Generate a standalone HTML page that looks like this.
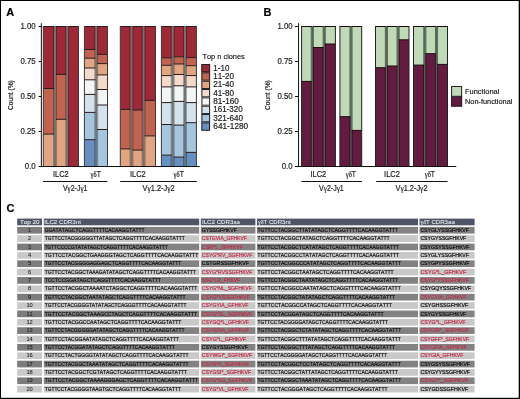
<!DOCTYPE html>
<html><head><meta charset="utf-8"><title>Figure</title>
<style>
html,body{margin:0;padding:0;background:#fff;}
body{width:520px;height:399px;overflow:hidden;position:relative;}
svg{display:block;position:absolute;left:0;top:0;will-change:transform;}
svg text{font-family:"Liberation Sans", sans-serif;font-kerning:none;}
</style></head><body>
<svg width="520" height="399" viewBox="0 0 520 399">
<rect x="0" y="0" width="520" height="399" fill="#fff"/>
<g>
<rect x="43.30" y="26.50" width="11.70" height="62.00" fill="#9e2836"/>
<rect x="43.30" y="88.50" width="11.70" height="45.60" fill="#c3634f"/>
<rect x="43.30" y="134.10" width="11.70" height="32.40" fill="#e2a582"/>
<line x1="43.30" y1="88.50" x2="55.00" y2="88.50" stroke="#2a1a1a" stroke-width="1.0"/>
<line x1="43.30" y1="134.10" x2="55.00" y2="134.10" stroke="#2a1a1a" stroke-width="1.0"/>
<rect x="55.00" y="26.50" width="12.20" height="47.90" fill="#9e2836"/>
<rect x="55.00" y="74.40" width="12.20" height="44.90" fill="#c3634f"/>
<rect x="55.00" y="119.30" width="12.20" height="47.20" fill="#e2a582"/>
<line x1="55.00" y1="74.40" x2="67.20" y2="74.40" stroke="#2a1a1a" stroke-width="1.0"/>
<line x1="55.00" y1="119.30" x2="67.20" y2="119.30" stroke="#2a1a1a" stroke-width="1.0"/>
<rect x="67.20" y="26.50" width="11.30" height="140.00" fill="#9e2836"/>
<line x1="43.30" y1="26.50" x2="78.50" y2="26.50" stroke="#2a1a1a" stroke-width="1.0"/>
<rect x="54.00" y="26.00" width="2.00" height="140.50" fill="#6b7575"/>
<rect x="53.00" y="26.50" width="1.00" height="140.00" fill="#000" fill-opacity="0.3"/>
<rect x="56.00" y="26.50" width="1.00" height="140.00" fill="#000" fill-opacity="0.3"/>
<rect x="66.20" y="26.00" width="2.00" height="140.50" fill="#6b7575"/>
<rect x="65.20" y="26.50" width="1.00" height="140.00" fill="#000" fill-opacity="0.3"/>
<rect x="68.20" y="26.50" width="1.00" height="140.00" fill="#000" fill-opacity="0.3"/>
<rect x="42.80" y="26.00" width="1.00" height="140.50" fill="#3a3a3a"/>
<rect x="78.00" y="26.00" width="1.00" height="140.50" fill="#3a3a3a"/>
<rect x="84.40" y="26.50" width="11.80" height="23.00" fill="#9e2836"/>
<rect x="84.40" y="49.50" width="11.80" height="8.70" fill="#c3634f"/>
<rect x="84.40" y="58.20" width="11.80" height="9.80" fill="#e2a582"/>
<rect x="84.40" y="68.00" width="11.80" height="11.80" fill="#f3dac9"/>
<rect x="84.40" y="79.80" width="11.80" height="14.60" fill="#f4f6f6"/>
<rect x="84.40" y="94.40" width="11.80" height="18.00" fill="#d4e2ec"/>
<rect x="84.40" y="112.40" width="11.80" height="27.30" fill="#a6c5de"/>
<rect x="84.40" y="139.70" width="11.80" height="26.80" fill="#6690c2"/>
<line x1="84.40" y1="49.50" x2="96.20" y2="49.50" stroke="#2a1a1a" stroke-width="1.0"/>
<line x1="84.40" y1="58.20" x2="96.20" y2="58.20" stroke="#2a1a1a" stroke-width="1.0"/>
<line x1="84.40" y1="68.00" x2="96.20" y2="68.00" stroke="#2a1a1a" stroke-width="1.0"/>
<line x1="84.40" y1="79.80" x2="96.20" y2="79.80" stroke="#2a1a1a" stroke-width="1.0"/>
<line x1="84.40" y1="94.40" x2="96.20" y2="94.40" stroke="#2a1a1a" stroke-width="1.0"/>
<line x1="84.40" y1="112.40" x2="96.20" y2="112.40" stroke="#2a1a1a" stroke-width="1.0"/>
<line x1="84.40" y1="139.70" x2="96.20" y2="139.70" stroke="#2a1a1a" stroke-width="1.0"/>
<rect x="96.20" y="26.50" width="11.30" height="27.90" fill="#9e2836"/>
<rect x="96.20" y="54.40" width="11.30" height="9.20" fill="#c3634f"/>
<rect x="96.20" y="63.60" width="11.30" height="11.30" fill="#e2a582"/>
<rect x="96.20" y="74.90" width="11.30" height="14.60" fill="#f3dac9"/>
<rect x="96.20" y="89.50" width="11.30" height="15.50" fill="#f4f6f6"/>
<rect x="96.20" y="105.00" width="11.30" height="24.50" fill="#d4e2ec"/>
<rect x="96.20" y="129.50" width="11.30" height="37.00" fill="#a6c5de"/>
<line x1="96.20" y1="54.40" x2="107.50" y2="54.40" stroke="#2a1a1a" stroke-width="1.0"/>
<line x1="96.20" y1="63.60" x2="107.50" y2="63.60" stroke="#2a1a1a" stroke-width="1.0"/>
<line x1="96.20" y1="74.90" x2="107.50" y2="74.90" stroke="#2a1a1a" stroke-width="1.0"/>
<line x1="96.20" y1="89.50" x2="107.50" y2="89.50" stroke="#2a1a1a" stroke-width="1.0"/>
<line x1="96.20" y1="105.00" x2="107.50" y2="105.00" stroke="#2a1a1a" stroke-width="1.0"/>
<line x1="96.20" y1="129.50" x2="107.50" y2="129.50" stroke="#2a1a1a" stroke-width="1.0"/>
<line x1="84.40" y1="26.50" x2="107.50" y2="26.50" stroke="#2a1a1a" stroke-width="1.0"/>
<rect x="95.20" y="26.00" width="2.00" height="140.50" fill="#6b7575"/>
<rect x="94.20" y="26.50" width="1.00" height="140.00" fill="#000" fill-opacity="0.3"/>
<rect x="97.20" y="26.50" width="1.00" height="140.00" fill="#000" fill-opacity="0.3"/>
<rect x="83.90" y="26.00" width="1.00" height="140.50" fill="#3a3a3a"/>
<rect x="107.00" y="26.00" width="1.00" height="140.50" fill="#3a3a3a"/>
<rect x="120.30" y="26.50" width="11.20" height="82.90" fill="#9e2836"/>
<rect x="120.30" y="109.40" width="11.20" height="39.50" fill="#c3634f"/>
<rect x="120.30" y="148.90" width="11.20" height="17.60" fill="#e2a582"/>
<line x1="120.30" y1="109.40" x2="131.50" y2="109.40" stroke="#2a1a1a" stroke-width="1.0"/>
<line x1="120.30" y1="148.90" x2="131.50" y2="148.90" stroke="#2a1a1a" stroke-width="1.0"/>
<rect x="131.50" y="26.50" width="12.10" height="83.50" fill="#9e2836"/>
<rect x="131.50" y="110.00" width="12.10" height="40.10" fill="#c3634f"/>
<rect x="131.50" y="150.10" width="12.10" height="16.40" fill="#e2a582"/>
<line x1="131.50" y1="110.00" x2="143.60" y2="110.00" stroke="#2a1a1a" stroke-width="1.0"/>
<line x1="131.50" y1="150.10" x2="143.60" y2="150.10" stroke="#2a1a1a" stroke-width="1.0"/>
<rect x="143.60" y="26.50" width="11.90" height="73.90" fill="#9e2836"/>
<rect x="143.60" y="100.40" width="11.90" height="35.50" fill="#c3634f"/>
<rect x="143.60" y="135.90" width="11.90" height="30.60" fill="#e2a582"/>
<line x1="143.60" y1="100.40" x2="155.50" y2="100.40" stroke="#2a1a1a" stroke-width="1.0"/>
<line x1="143.60" y1="135.90" x2="155.50" y2="135.90" stroke="#2a1a1a" stroke-width="1.0"/>
<line x1="120.30" y1="26.50" x2="155.50" y2="26.50" stroke="#2a1a1a" stroke-width="1.0"/>
<rect x="130.50" y="26.00" width="2.00" height="140.50" fill="#6b7575"/>
<rect x="129.50" y="26.50" width="1.00" height="140.00" fill="#000" fill-opacity="0.3"/>
<rect x="132.50" y="26.50" width="1.00" height="140.00" fill="#000" fill-opacity="0.3"/>
<rect x="142.60" y="26.00" width="2.00" height="140.50" fill="#6b7575"/>
<rect x="141.60" y="26.50" width="1.00" height="140.00" fill="#000" fill-opacity="0.3"/>
<rect x="144.60" y="26.50" width="1.00" height="140.00" fill="#000" fill-opacity="0.3"/>
<rect x="119.80" y="26.00" width="1.00" height="140.50" fill="#3a3a3a"/>
<rect x="155.00" y="26.00" width="1.00" height="140.50" fill="#3a3a3a"/>
<rect x="161.40" y="26.50" width="11.30" height="31.30" fill="#9e2836"/>
<rect x="161.40" y="57.80" width="11.30" height="7.50" fill="#c3634f"/>
<rect x="161.40" y="65.30" width="11.30" height="10.30" fill="#e2a582"/>
<rect x="161.40" y="75.60" width="11.30" height="11.30" fill="#f3dac9"/>
<rect x="161.40" y="86.90" width="11.30" height="15.70" fill="#f4f6f6"/>
<rect x="161.40" y="102.60" width="11.30" height="21.90" fill="#d4e2ec"/>
<rect x="161.40" y="124.50" width="11.30" height="30.60" fill="#a6c5de"/>
<rect x="161.40" y="155.10" width="11.30" height="11.40" fill="#6690c2"/>
<line x1="161.40" y1="57.80" x2="172.70" y2="57.80" stroke="#2a1a1a" stroke-width="1.0"/>
<line x1="161.40" y1="65.30" x2="172.70" y2="65.30" stroke="#2a1a1a" stroke-width="1.0"/>
<line x1="161.40" y1="75.60" x2="172.70" y2="75.60" stroke="#2a1a1a" stroke-width="1.0"/>
<line x1="161.40" y1="86.90" x2="172.70" y2="86.90" stroke="#2a1a1a" stroke-width="1.0"/>
<line x1="161.40" y1="102.60" x2="172.70" y2="102.60" stroke="#2a1a1a" stroke-width="1.0"/>
<line x1="161.40" y1="124.50" x2="172.70" y2="124.50" stroke="#2a1a1a" stroke-width="1.0"/>
<line x1="161.40" y1="155.10" x2="172.70" y2="155.10" stroke="#2a1a1a" stroke-width="1.0"/>
<rect x="172.70" y="26.50" width="12.30" height="30.30" fill="#9e2836"/>
<rect x="172.70" y="56.80" width="12.30" height="7.20" fill="#c3634f"/>
<rect x="172.70" y="64.00" width="12.30" height="10.50" fill="#e2a582"/>
<rect x="172.70" y="74.50" width="12.30" height="11.30" fill="#f3dac9"/>
<rect x="172.70" y="85.80" width="12.30" height="15.60" fill="#f4f6f6"/>
<rect x="172.70" y="101.40" width="12.30" height="23.70" fill="#d4e2ec"/>
<rect x="172.70" y="125.10" width="12.30" height="32.00" fill="#a6c5de"/>
<rect x="172.70" y="157.10" width="12.30" height="9.40" fill="#6690c2"/>
<line x1="172.70" y1="56.80" x2="185.00" y2="56.80" stroke="#2a1a1a" stroke-width="1.0"/>
<line x1="172.70" y1="64.00" x2="185.00" y2="64.00" stroke="#2a1a1a" stroke-width="1.0"/>
<line x1="172.70" y1="74.50" x2="185.00" y2="74.50" stroke="#2a1a1a" stroke-width="1.0"/>
<line x1="172.70" y1="85.80" x2="185.00" y2="85.80" stroke="#2a1a1a" stroke-width="1.0"/>
<line x1="172.70" y1="101.40" x2="185.00" y2="101.40" stroke="#2a1a1a" stroke-width="1.0"/>
<line x1="172.70" y1="125.10" x2="185.00" y2="125.10" stroke="#2a1a1a" stroke-width="1.0"/>
<line x1="172.70" y1="157.10" x2="185.00" y2="157.10" stroke="#2a1a1a" stroke-width="1.0"/>
<rect x="185.00" y="26.50" width="11.40" height="31.10" fill="#9e2836"/>
<rect x="185.00" y="57.60" width="11.40" height="8.10" fill="#c3634f"/>
<rect x="185.00" y="65.70" width="11.40" height="9.90" fill="#e2a582"/>
<rect x="185.00" y="75.60" width="11.40" height="11.30" fill="#f3dac9"/>
<rect x="185.00" y="86.90" width="11.40" height="15.70" fill="#f4f6f6"/>
<rect x="185.00" y="102.60" width="11.40" height="20.10" fill="#d4e2ec"/>
<rect x="185.00" y="122.70" width="11.40" height="29.70" fill="#a6c5de"/>
<rect x="185.00" y="152.40" width="11.40" height="14.10" fill="#6690c2"/>
<line x1="185.00" y1="57.60" x2="196.40" y2="57.60" stroke="#2a1a1a" stroke-width="1.0"/>
<line x1="185.00" y1="65.70" x2="196.40" y2="65.70" stroke="#2a1a1a" stroke-width="1.0"/>
<line x1="185.00" y1="75.60" x2="196.40" y2="75.60" stroke="#2a1a1a" stroke-width="1.0"/>
<line x1="185.00" y1="86.90" x2="196.40" y2="86.90" stroke="#2a1a1a" stroke-width="1.0"/>
<line x1="185.00" y1="102.60" x2="196.40" y2="102.60" stroke="#2a1a1a" stroke-width="1.0"/>
<line x1="185.00" y1="122.70" x2="196.40" y2="122.70" stroke="#2a1a1a" stroke-width="1.0"/>
<line x1="185.00" y1="152.40" x2="196.40" y2="152.40" stroke="#2a1a1a" stroke-width="1.0"/>
<line x1="161.40" y1="26.50" x2="196.40" y2="26.50" stroke="#2a1a1a" stroke-width="1.0"/>
<rect x="171.70" y="26.00" width="2.00" height="140.50" fill="#6b7575"/>
<rect x="170.70" y="26.50" width="1.00" height="140.00" fill="#000" fill-opacity="0.3"/>
<rect x="173.70" y="26.50" width="1.00" height="140.00" fill="#000" fill-opacity="0.3"/>
<rect x="184.00" y="26.00" width="2.00" height="140.50" fill="#6b7575"/>
<rect x="183.00" y="26.50" width="1.00" height="140.00" fill="#000" fill-opacity="0.3"/>
<rect x="186.00" y="26.50" width="1.00" height="140.00" fill="#000" fill-opacity="0.3"/>
<rect x="160.90" y="26.00" width="1.00" height="140.50" fill="#3a3a3a"/>
<rect x="195.90" y="26.00" width="1.00" height="140.50" fill="#3a3a3a"/>
<line x1="41.35" y1="23.20" x2="41.35" y2="167.00" stroke="#111" stroke-width="1.0"/>
<line x1="38.60" y1="26.50" x2="41.35" y2="26.50" stroke="#111" stroke-width="1.0"/>
<text transform="translate(20.50,29.45) scale(0.9318,1)" x="0" y="0" font-size="8.4" fill="#1a1a1a" stroke="#1a1a1a" stroke-width="0.18">1.00</text>
<line x1="38.60" y1="61.50" x2="41.35" y2="61.50" stroke="#111" stroke-width="1.0"/>
<text transform="translate(20.50,64.45) scale(0.9318,1)" x="0" y="0" font-size="8.4" fill="#1a1a1a" stroke="#1a1a1a" stroke-width="0.18">0.75</text>
<line x1="38.60" y1="96.50" x2="41.35" y2="96.50" stroke="#111" stroke-width="1.0"/>
<text transform="translate(20.50,99.45) scale(0.9318,1)" x="0" y="0" font-size="8.4" fill="#1a1a1a" stroke="#1a1a1a" stroke-width="0.18">0.50</text>
<line x1="38.60" y1="131.50" x2="41.35" y2="131.50" stroke="#111" stroke-width="1.0"/>
<text transform="translate(20.50,134.45) scale(0.9318,1)" x="0" y="0" font-size="8.4" fill="#1a1a1a" stroke="#1a1a1a" stroke-width="0.18">0.25</text>
<line x1="38.60" y1="166.50" x2="41.35" y2="166.50" stroke="#111" stroke-width="1.0"/>
<text transform="translate(24.85,169.45) scale(0.9308,1)" x="0" y="0" font-size="8.4" fill="#1a1a1a" stroke="#1a1a1a" stroke-width="0.18">0.0</text>
<line x1="41.00" y1="166.50" x2="199.70" y2="166.50" stroke="#111" stroke-width="1.0"/>
</g>
<text transform="translate(52.90,176.70) scale(0.9135,1)" x="0" y="0" font-size="8.2" fill="#1a1a1a" stroke="#1a1a1a" stroke-width="0.18">ILC2</text>
<text transform="translate(90.45,176.70) scale(0.8240,1)" x="0" y="0" font-size="8.2" fill="#1a1a1a" stroke="#1a1a1a" stroke-width="0.18"><tspan font-family="Liberation Serif">γ</tspan><tspan font-family="Liberation Serif">δ</tspan>T</text>
<text transform="translate(129.90,176.70) scale(0.9135,1)" x="0" y="0" font-size="8.2" fill="#1a1a1a" stroke="#1a1a1a" stroke-width="0.18">ILC2</text>
<text transform="translate(173.55,176.70) scale(0.8240,1)" x="0" y="0" font-size="8.2" fill="#1a1a1a" stroke="#1a1a1a" stroke-width="0.18"><tspan font-family="Liberation Serif">γ</tspan><tspan font-family="Liberation Serif">δ</tspan>T</text>
<line x1="43.00" y1="181.50" x2="107.30" y2="181.50" stroke="#111" stroke-width="1.0"/>
<line x1="120.20" y1="181.50" x2="196.90" y2="181.50" stroke="#111" stroke-width="1.0"/>
<text transform="translate(62.90,191.40) scale(0.8585,1)" x="0" y="0" font-size="8.2" fill="#1a1a1a" stroke="#1a1a1a" stroke-width="0.18">V<tspan font-family="Liberation Serif">γ</tspan>2-J<tspan font-family="Liberation Serif">γ</tspan>1</text>
<text transform="translate(142.55,191.40) scale(0.9046,1)" x="0" y="0" font-size="8.2" fill="#1a1a1a" stroke="#1a1a1a" stroke-width="0.18">V<tspan font-family="Liberation Serif">γ</tspan>1.2-J<tspan font-family="Liberation Serif">γ</tspan>2</text>
<text transform="translate(13.30,110.00) rotate(-90) scale(0.8954,1)" x="0" y="0" font-size="7.4" fill="#1a1a1a" stroke="#1a1a1a" stroke-width="0.2">Count (%)</text>
<text transform="translate(202.50,59.30) scale(0.9255,1)" x="0" y="0" font-size="8.0" fill="#1a1a1a" stroke="#1a1a1a" stroke-width="0.18">Top n clones</text>
<rect x="201.40" y="64.00" width="8.70" height="8.34" fill="#9e2836"/>
<rect x="201.90" y="64.50" width="7.70" height="7.34" fill="none" stroke="#222" stroke-width="1"/>
<text transform="translate(213.30,70.62) scale(0.9762,1)" x="0" y="0" font-size="8.2" fill="#1a1a1a" stroke="#1a1a1a" stroke-width="0.18">1-10</text>
<rect x="201.40" y="72.34" width="8.70" height="8.34" fill="#c3634f"/>
<rect x="201.90" y="72.84" width="7.70" height="7.34" fill="none" stroke="#222" stroke-width="1"/>
<text transform="translate(213.30,78.96) scale(0.9927,1)" x="0" y="0" font-size="8.2" fill="#1a1a1a" stroke="#1a1a1a" stroke-width="0.18">11-20</text>
<rect x="201.40" y="80.68" width="8.70" height="8.34" fill="#e2a582"/>
<rect x="201.90" y="81.18" width="7.70" height="7.34" fill="none" stroke="#222" stroke-width="1"/>
<text transform="translate(213.30,87.30) scale(0.9927,1)" x="0" y="0" font-size="8.2" fill="#1a1a1a" stroke="#1a1a1a" stroke-width="0.18">21-40</text>
<rect x="201.40" y="89.02" width="8.70" height="8.34" fill="#f3dac9"/>
<rect x="201.90" y="89.52" width="7.70" height="7.34" fill="none" stroke="#222" stroke-width="1"/>
<text transform="translate(213.30,95.64) scale(0.9927,1)" x="0" y="0" font-size="8.2" fill="#1a1a1a" stroke="#1a1a1a" stroke-width="0.18">41-80</text>
<rect x="201.40" y="97.36" width="8.70" height="8.34" fill="#f4f6f6"/>
<rect x="201.90" y="97.86" width="7.70" height="7.34" fill="none" stroke="#222" stroke-width="1"/>
<text transform="translate(213.30,103.98) scale(1.0000,1)" x="0" y="0" font-size="8.2" fill="#1a1a1a" stroke="#1a1a1a" stroke-width="0.18">81-160</text>
<rect x="201.40" y="105.70" width="8.70" height="8.34" fill="#d4e2ec"/>
<rect x="201.90" y="106.20" width="7.70" height="7.34" fill="none" stroke="#222" stroke-width="1"/>
<text transform="translate(213.30,112.32) scale(0.9780,1)" x="0" y="0" font-size="8.2" fill="#1a1a1a" stroke="#1a1a1a" stroke-width="0.18">161-320</text>
<rect x="201.40" y="114.04" width="8.70" height="8.34" fill="#a6c5de"/>
<rect x="201.90" y="114.54" width="7.70" height="7.34" fill="none" stroke="#222" stroke-width="1"/>
<text transform="translate(213.30,120.66) scale(0.9913,1)" x="0" y="0" font-size="8.2" fill="#1a1a1a" stroke="#1a1a1a" stroke-width="0.18">321-640</text>
<rect x="201.40" y="122.38" width="8.70" height="8.34" fill="#6690c2"/>
<rect x="201.90" y="122.88" width="7.70" height="7.34" fill="none" stroke="#222" stroke-width="1"/>
<text transform="translate(213.30,129.00) scale(1.0055,1)" x="0" y="0" font-size="8.2" fill="#1a1a1a" stroke="#1a1a1a" stroke-width="0.18">641-1280</text>
<rect x="301.60" y="26.50" width="10.70" height="54.90" fill="#c0d9b6"/>
<rect x="301.60" y="81.40" width="10.70" height="85.10" fill="#641b40"/>
<line x1="301.60" y1="81.40" x2="312.30" y2="81.40" stroke="#1a0a10" stroke-width="1.0"/>
<rect x="312.30" y="26.50" width="11.90" height="21.00" fill="#c0d9b6"/>
<rect x="312.30" y="47.50" width="11.90" height="119.00" fill="#641b40"/>
<line x1="312.30" y1="47.50" x2="324.20" y2="47.50" stroke="#1a0a10" stroke-width="1.0"/>
<rect x="324.20" y="26.50" width="11.20" height="17.50" fill="#c0d9b6"/>
<rect x="324.20" y="44.00" width="11.20" height="122.50" fill="#641b40"/>
<line x1="324.20" y1="44.00" x2="335.40" y2="44.00" stroke="#1a0a10" stroke-width="1.0"/>
<line x1="301.60" y1="26.50" x2="335.40" y2="26.50" stroke="#1a0a10" stroke-width="1.0"/>
<rect x="311.55" y="26.00" width="1.50" height="140.50" fill="#4d6658"/>
<rect x="310.75" y="26.50" width="0.80" height="140.00" fill="#000" fill-opacity="0.55"/>
<rect x="313.05" y="26.50" width="0.80" height="140.00" fill="#000" fill-opacity="0.55"/>
<rect x="323.45" y="26.00" width="1.50" height="140.50" fill="#4d6658"/>
<rect x="322.65" y="26.50" width="0.80" height="140.00" fill="#000" fill-opacity="0.55"/>
<rect x="324.95" y="26.50" width="0.80" height="140.00" fill="#000" fill-opacity="0.55"/>
<rect x="301.10" y="26.00" width="1.00" height="140.50" fill="#222"/>
<rect x="334.90" y="26.00" width="1.00" height="140.50" fill="#222"/>
<rect x="339.90" y="26.50" width="11.10" height="90.20" fill="#c0d9b6"/>
<rect x="339.90" y="116.70" width="11.10" height="49.80" fill="#641b40"/>
<line x1="339.90" y1="116.70" x2="351.00" y2="116.70" stroke="#1a0a10" stroke-width="1.0"/>
<rect x="351.00" y="26.50" width="10.70" height="103.90" fill="#c0d9b6"/>
<rect x="351.00" y="130.40" width="10.70" height="36.10" fill="#641b40"/>
<line x1="351.00" y1="130.40" x2="361.70" y2="130.40" stroke="#1a0a10" stroke-width="1.0"/>
<line x1="339.90" y1="26.50" x2="361.70" y2="26.50" stroke="#1a0a10" stroke-width="1.0"/>
<rect x="350.25" y="26.00" width="1.50" height="140.50" fill="#4d6658"/>
<rect x="349.45" y="26.50" width="0.80" height="140.00" fill="#000" fill-opacity="0.55"/>
<rect x="351.75" y="26.50" width="0.80" height="140.00" fill="#000" fill-opacity="0.55"/>
<rect x="339.40" y="26.00" width="1.00" height="140.50" fill="#222"/>
<rect x="361.20" y="26.00" width="1.00" height="140.50" fill="#222"/>
<rect x="375.50" y="26.50" width="10.90" height="41.20" fill="#c0d9b6"/>
<rect x="375.50" y="67.70" width="10.90" height="98.80" fill="#641b40"/>
<line x1="375.50" y1="67.70" x2="386.40" y2="67.70" stroke="#1a0a10" stroke-width="1.0"/>
<rect x="386.40" y="26.50" width="11.70" height="39.50" fill="#c0d9b6"/>
<rect x="386.40" y="66.00" width="11.70" height="100.50" fill="#641b40"/>
<line x1="386.40" y1="66.00" x2="398.10" y2="66.00" stroke="#1a0a10" stroke-width="1.0"/>
<rect x="398.10" y="26.50" width="10.90" height="13.30" fill="#c0d9b6"/>
<rect x="398.10" y="39.80" width="10.90" height="126.70" fill="#641b40"/>
<line x1="398.10" y1="39.80" x2="409.00" y2="39.80" stroke="#1a0a10" stroke-width="1.0"/>
<line x1="375.50" y1="26.50" x2="409.00" y2="26.50" stroke="#1a0a10" stroke-width="1.0"/>
<rect x="385.65" y="26.00" width="1.50" height="140.50" fill="#4d6658"/>
<rect x="384.85" y="26.50" width="0.80" height="140.00" fill="#000" fill-opacity="0.55"/>
<rect x="387.15" y="26.50" width="0.80" height="140.00" fill="#000" fill-opacity="0.55"/>
<rect x="397.35" y="26.00" width="1.50" height="140.50" fill="#4d6658"/>
<rect x="396.55" y="26.50" width="0.80" height="140.00" fill="#000" fill-opacity="0.55"/>
<rect x="398.85" y="26.50" width="0.80" height="140.00" fill="#000" fill-opacity="0.55"/>
<rect x="375.00" y="26.00" width="1.00" height="140.50" fill="#222"/>
<rect x="408.50" y="26.00" width="1.00" height="140.50" fill="#222"/>
<rect x="413.50" y="26.50" width="11.30" height="38.60" fill="#c0d9b6"/>
<rect x="413.50" y="65.10" width="11.30" height="101.40" fill="#641b40"/>
<line x1="413.50" y1="65.10" x2="424.80" y2="65.10" stroke="#1a0a10" stroke-width="1.0"/>
<rect x="424.80" y="26.50" width="11.70" height="27.20" fill="#c0d9b6"/>
<rect x="424.80" y="53.70" width="11.70" height="112.80" fill="#641b40"/>
<line x1="424.80" y1="53.70" x2="436.50" y2="53.70" stroke="#1a0a10" stroke-width="1.0"/>
<rect x="436.50" y="26.50" width="11.00" height="37.90" fill="#c0d9b6"/>
<rect x="436.50" y="64.40" width="11.00" height="102.10" fill="#641b40"/>
<line x1="436.50" y1="64.40" x2="447.50" y2="64.40" stroke="#1a0a10" stroke-width="1.0"/>
<line x1="413.50" y1="26.50" x2="447.50" y2="26.50" stroke="#1a0a10" stroke-width="1.0"/>
<rect x="424.05" y="26.00" width="1.50" height="140.50" fill="#4d6658"/>
<rect x="423.25" y="26.50" width="0.80" height="140.00" fill="#000" fill-opacity="0.55"/>
<rect x="425.55" y="26.50" width="0.80" height="140.00" fill="#000" fill-opacity="0.55"/>
<rect x="435.75" y="26.00" width="1.50" height="140.50" fill="#4d6658"/>
<rect x="434.95" y="26.50" width="0.80" height="140.00" fill="#000" fill-opacity="0.55"/>
<rect x="437.25" y="26.50" width="0.80" height="140.00" fill="#000" fill-opacity="0.55"/>
<rect x="413.00" y="26.00" width="1.00" height="140.50" fill="#222"/>
<rect x="447.00" y="26.00" width="1.00" height="140.50" fill="#222"/>
<line x1="298.55" y1="23.20" x2="298.55" y2="167.00" stroke="#111" stroke-width="1.0"/>
<line x1="295.00" y1="26.50" x2="298.55" y2="26.50" stroke="#111" stroke-width="1.0"/>
<text transform="translate(277.40,29.45) scale(0.9318,1)" x="0" y="0" font-size="8.4" fill="#1a1a1a" stroke="#1a1a1a" stroke-width="0.18">1.00</text>
<line x1="295.00" y1="61.50" x2="298.55" y2="61.50" stroke="#111" stroke-width="1.0"/>
<text transform="translate(277.40,64.45) scale(0.9318,1)" x="0" y="0" font-size="8.4" fill="#1a1a1a" stroke="#1a1a1a" stroke-width="0.18">0.75</text>
<line x1="295.00" y1="96.50" x2="298.55" y2="96.50" stroke="#111" stroke-width="1.0"/>
<text transform="translate(277.40,99.45) scale(0.9318,1)" x="0" y="0" font-size="8.4" fill="#1a1a1a" stroke="#1a1a1a" stroke-width="0.18">0.50</text>
<line x1="295.00" y1="131.50" x2="298.55" y2="131.50" stroke="#111" stroke-width="1.0"/>
<text transform="translate(277.40,134.45) scale(0.9318,1)" x="0" y="0" font-size="8.4" fill="#1a1a1a" stroke="#1a1a1a" stroke-width="0.18">0.25</text>
<line x1="295.00" y1="166.50" x2="298.55" y2="166.50" stroke="#111" stroke-width="1.0"/>
<text transform="translate(281.75,169.45) scale(0.9308,1)" x="0" y="0" font-size="8.4" fill="#1a1a1a" stroke="#1a1a1a" stroke-width="0.18">0.0</text>
<line x1="298.00" y1="166.50" x2="456.30" y2="166.50" stroke="#111" stroke-width="1.0"/>
<text transform="translate(310.40,176.70) scale(0.9135,1)" x="0" y="0" font-size="8.2" fill="#1a1a1a" stroke="#1a1a1a" stroke-width="0.18">ILC2</text>
<text transform="translate(345.65,176.70) scale(0.8240,1)" x="0" y="0" font-size="8.2" fill="#1a1a1a" stroke="#1a1a1a" stroke-width="0.18"><tspan font-family="Liberation Serif">γ</tspan><tspan font-family="Liberation Serif">δ</tspan>T</text>
<text transform="translate(384.10,176.70) scale(0.9135,1)" x="0" y="0" font-size="8.2" fill="#1a1a1a" stroke="#1a1a1a" stroke-width="0.18">ILC2</text>
<text transform="translate(424.65,176.70) scale(0.8240,1)" x="0" y="0" font-size="8.2" fill="#1a1a1a" stroke="#1a1a1a" stroke-width="0.18"><tspan font-family="Liberation Serif">γ</tspan><tspan font-family="Liberation Serif">δ</tspan>T</text>
<line x1="301.30" y1="181.50" x2="362.00" y2="181.50" stroke="#111" stroke-width="1.0"/>
<line x1="376.20" y1="181.50" x2="447.50" y2="181.50" stroke="#111" stroke-width="1.0"/>
<text transform="translate(319.10,191.40) scale(0.8585,1)" x="0" y="0" font-size="8.2" fill="#1a1a1a" stroke="#1a1a1a" stroke-width="0.18">V<tspan font-family="Liberation Serif">γ</tspan>2-J<tspan font-family="Liberation Serif">γ</tspan>1</text>
<text transform="translate(395.45,191.40) scale(0.9046,1)" x="0" y="0" font-size="8.2" fill="#1a1a1a" stroke="#1a1a1a" stroke-width="0.18">V<tspan font-family="Liberation Serif">γ</tspan>1.2-J<tspan font-family="Liberation Serif">γ</tspan>2</text>
<text transform="translate(269.80,110.00) rotate(-90) scale(0.8954,1)" x="0" y="0" font-size="7.4" fill="#1a1a1a" stroke="#1a1a1a" stroke-width="0.2">Count (%)</text>
<rect x="451.10" y="86.00" width="11.00" height="10.30" fill="#c0d9b6"/>
<rect x="451.10" y="96.30" width="11.00" height="10.30" fill="#641b40"/>
<rect x="451.6" y="86.5" width="10" height="19.6" fill="none" stroke="#222" stroke-width="1"/>
<line x1="451.10" y1="96.30" x2="462.10" y2="96.30" stroke="#222" stroke-width="1.0"/>
<text transform="translate(465.00,93.70) scale(0.9670,1)" x="0" y="0" font-size="7.7" fill="#1a1a1a" stroke="#1a1a1a" stroke-width="0.18">Functional</text>
<text transform="translate(465.00,103.70) scale(0.9561,1)" x="0" y="0" font-size="7.7" fill="#1a1a1a" stroke="#1a1a1a" stroke-width="0.18">Non-functional</text>
<text x="6.20" y="15.90" font-size="11" fill="#000" stroke="#000" stroke-width="0.18" font-weight="bold" >A</text>
<text x="263.40" y="16.00" font-size="11" fill="#000" stroke="#000" stroke-width="0.18" font-weight="bold" >B</text>
<text x="6.40" y="212.00" font-size="11" fill="#000" stroke="#000" stroke-width="0.18" font-weight="bold" >C</text>
<rect x="17.20" y="218.60" width="24.80" height="6.70" fill="#4e5566"/>
<rect x="43.80" y="218.60" width="155.40" height="6.70" fill="#4e5566"/>
<rect x="200.80" y="218.60" width="54.60" height="6.70" fill="#4e5566"/>
<rect x="256.90" y="218.60" width="161.10" height="6.70" fill="#4e5566"/>
<rect x="419.50" y="218.60" width="55.10" height="6.70" fill="#4e5566"/>
<rect x="17.20" y="226.90" width="24.80" height="6.70" fill="#7c7c7c"/>
<rect x="43.80" y="226.90" width="155.40" height="6.70" fill="#828282"/>
<rect x="200.80" y="226.90" width="54.60" height="6.70" fill="#828282"/>
<rect x="256.90" y="226.90" width="161.10" height="6.70" fill="#828282"/>
<rect x="419.50" y="226.90" width="55.10" height="6.70" fill="#828282"/>
<text x="29.60" y="231.95" font-size="5.7" fill="#222" stroke="#222" stroke-width="0.08" text-anchor="middle" >1</text>
<text transform="translate(44.70,231.95) scale(0.8317,1)" x="0" y="0" font-size="5.9" fill="#111" stroke="#111" stroke-width="0.2">GGATATAGCTCAGGTTTTCACAAGGTATTT</text>
<text transform="translate(201.80,231.95) scale(0.8717,1)" x="0" y="0" font-size="5.9" fill="#111" stroke="#111" stroke-width="0.2">GYSSGFHKVF</text>
<text transform="translate(257.60,231.95) scale(0.8390,1)" x="0" y="0" font-size="5.9" fill="#111" stroke="#111" stroke-width="0.2">TGTTCCTACGGCTTATATAGCTCAGGTTTTCACAAGGTATTT</text>
<text transform="translate(420.40,231.95) scale(0.8732,1)" x="0" y="0" font-size="5.9" fill="#111" stroke="#111" stroke-width="0.2">CSYGLYSSGFHKVF</text>
<rect x="17.20" y="235.26" width="24.80" height="6.70" fill="#c9c9c9"/>
<rect x="43.80" y="235.26" width="155.40" height="6.70" fill="#c8c8c8"/>
<rect x="200.80" y="235.26" width="54.60" height="6.70" fill="#c8c8c8"/>
<rect x="256.90" y="235.26" width="161.10" height="6.70" fill="#c8c8c8"/>
<rect x="419.50" y="235.26" width="55.10" height="6.70" fill="#c8c8c8"/>
<text x="29.60" y="240.31" font-size="5.7" fill="#222" stroke="#222" stroke-width="0.08" text-anchor="middle" >2</text>
<text transform="translate(44.70,240.31) scale(0.8269,1)" x="0" y="0" font-size="5.9" fill="#111" stroke="#111" stroke-width="0.2">TGTTCCTACGGGGGTTATAGCTCAGGTTTTCACAAGGTATTT</text>
<text transform="translate(201.80,240.31) scale(0.8486,1)" x="0" y="0" font-size="5.9" fill="#c42c48" stroke="#c42c48" stroke-width="0.2">CSTGVIA_GFHKVF</text>
<text transform="translate(257.60,240.31) scale(0.8463,1)" x="0" y="0" font-size="5.9" fill="#111" stroke="#111" stroke-width="0.2">TGTTCCTACGGCTATAGCTCAGGTTTTCACAAGGTATTT</text>
<text transform="translate(420.40,240.31) scale(0.8764,1)" x="0" y="0" font-size="5.9" fill="#111" stroke="#111" stroke-width="0.2">CSYGYSSGFHKVF</text>
<rect x="17.20" y="243.63" width="24.80" height="6.70" fill="#7c7c7c"/>
<rect x="43.80" y="243.63" width="155.40" height="6.70" fill="#828282"/>
<rect x="200.80" y="243.63" width="54.60" height="6.70" fill="#828282"/>
<rect x="256.90" y="243.63" width="161.10" height="6.70" fill="#828282"/>
<rect x="419.50" y="243.63" width="55.10" height="6.70" fill="#828282"/>
<text x="29.60" y="248.68" font-size="5.7" fill="#222" stroke="#222" stroke-width="0.08" text-anchor="middle" >3</text>
<text transform="translate(44.70,248.68) scale(0.8131,1)" x="0" y="0" font-size="5.9" fill="#111" stroke="#111" stroke-width="0.2">TGTTCCCCGTATATAGCTCAGGTTTTCACAAGGTATTT</text>
<text transform="translate(201.80,248.68) scale(0.9095,1)" x="0" y="0" font-size="5.9" fill="#c42c48" stroke="#c42c48" stroke-width="0.2">CSR*L_GFHKVF</text>
<text transform="translate(257.60,248.68) scale(0.8441,1)" x="0" y="0" font-size="5.9" fill="#111" stroke="#111" stroke-width="0.2">TGTTCCTACGGCTCATATAGCTCAGGTTTTCACAAGGTATTT</text>
<text transform="translate(420.40,248.68) scale(0.8737,1)" x="0" y="0" font-size="5.9" fill="#111" stroke="#111" stroke-width="0.2">CSYGSYSSGFHKVF</text>
<rect x="17.20" y="251.99" width="24.80" height="6.70" fill="#c9c9c9"/>
<rect x="43.80" y="251.99" width="155.40" height="6.70" fill="#c8c8c8"/>
<rect x="200.80" y="251.99" width="54.60" height="6.70" fill="#c8c8c8"/>
<rect x="256.90" y="251.99" width="161.10" height="6.70" fill="#c8c8c8"/>
<rect x="419.50" y="251.99" width="55.10" height="6.70" fill="#c8c8c8"/>
<text x="29.60" y="257.04" font-size="5.7" fill="#222" stroke="#222" stroke-width="0.08" text-anchor="middle" >4</text>
<text transform="translate(44.70,257.04) scale(0.8606,1)" x="0" y="0" font-size="5.9" fill="#111" stroke="#111" stroke-width="0.2">TGTTCCTACGGCTGAAGGGTAGCTCAGGTTTTCACAAGGTATTT</text>
<text transform="translate(201.80,257.04) scale(0.8667,1)" x="0" y="0" font-size="5.9" fill="#c42c48" stroke="#c42c48" stroke-width="0.2">CSYG*RV_SGFHKVF</text>
<text transform="translate(257.60,257.04) scale(0.8441,1)" x="0" y="0" font-size="5.9" fill="#111" stroke="#111" stroke-width="0.2">TGTTCCTACGGCCTATATAGCTCAGGTTTTCACAAGGTATTT</text>
<text transform="translate(420.40,257.04) scale(0.8732,1)" x="0" y="0" font-size="5.9" fill="#111" stroke="#111" stroke-width="0.2">CSYGLYSSGFHKVF</text>
<rect x="17.20" y="260.35" width="24.80" height="6.70" fill="#7c7c7c"/>
<rect x="43.80" y="260.35" width="155.40" height="6.70" fill="#828282"/>
<rect x="200.80" y="260.35" width="54.60" height="6.70" fill="#828282"/>
<rect x="256.90" y="260.35" width="161.10" height="6.70" fill="#828282"/>
<rect x="419.50" y="260.35" width="55.10" height="6.70" fill="#828282"/>
<text x="29.60" y="265.40" font-size="5.7" fill="#222" stroke="#222" stroke-width="0.08" text-anchor="middle" >5</text>
<text transform="translate(44.70,265.40) scale(0.8381,1)" x="0" y="0" font-size="5.9" fill="#111" stroke="#111" stroke-width="0.2">TGTTCCTACGGGGAGGAGCTCAGGTTTTCACAAGGTATTT</text>
<text transform="translate(201.80,265.40) scale(0.9012,1)" x="0" y="0" font-size="5.9" fill="#111" stroke="#111" stroke-width="0.2">CSTGRSSGFHKVF</text>
<text transform="translate(257.60,265.40) scale(0.8509,1)" x="0" y="0" font-size="5.9" fill="#111" stroke="#111" stroke-width="0.2">TGTTCCTACGGCCCATATAGCTCAGGTTTTCACAAGGTATTT</text>
<text transform="translate(420.40,265.40) scale(0.8737,1)" x="0" y="0" font-size="5.9" fill="#111" stroke="#111" stroke-width="0.2">CSYGPYSSGFHKVF</text>
<rect x="17.20" y="268.72" width="24.80" height="6.70" fill="#c9c9c9"/>
<rect x="43.80" y="268.72" width="155.40" height="6.70" fill="#c8c8c8"/>
<rect x="200.80" y="268.72" width="54.60" height="6.70" fill="#c8c8c8"/>
<rect x="256.90" y="268.72" width="161.10" height="6.70" fill="#c8c8c8"/>
<rect x="419.50" y="268.72" width="55.10" height="6.70" fill="#c8c8c8"/>
<text x="29.60" y="273.77" font-size="5.7" fill="#222" stroke="#222" stroke-width="0.08" text-anchor="middle" >6</text>
<text transform="translate(44.70,273.77) scale(0.8406,1)" x="0" y="0" font-size="5.9" fill="#111" stroke="#111" stroke-width="0.2">TGTTCCTACGGCTAAAGATATAGCTCAGGTTTTCACAAGGTATTT</text>
<text transform="translate(201.80,273.77) scale(0.8571,1)" x="0" y="0" font-size="5.9" fill="#c42c48" stroke="#c42c48" stroke-width="0.2">CSYG*RVSSGFHKVF</text>
<text transform="translate(257.60,273.77) scale(0.8492,1)" x="0" y="0" font-size="5.9" fill="#111" stroke="#111" stroke-width="0.2">TGTTCCTACGGCTAATAGCTCAGGTTTTCACAAGGTATTT</text>
<text transform="translate(420.40,273.77) scale(0.9284,1)" x="0" y="0" font-size="5.9" fill="#c42c48" stroke="#c42c48" stroke-width="0.2">CSYG*L_GFHKVF</text>
<rect x="17.20" y="277.08" width="24.80" height="6.70" fill="#7c7c7c"/>
<rect x="43.80" y="277.08" width="155.40" height="6.70" fill="#828282"/>
<rect x="200.80" y="277.08" width="54.60" height="6.70" fill="#828282"/>
<rect x="256.90" y="277.08" width="161.10" height="6.70" fill="#828282"/>
<rect x="419.50" y="277.08" width="55.10" height="6.70" fill="#828282"/>
<text x="29.60" y="282.13" font-size="5.7" fill="#222" stroke="#222" stroke-width="0.08" text-anchor="middle" >7</text>
<text transform="translate(44.70,282.13) scale(0.8487,1)" x="0" y="0" font-size="5.9" fill="#111" stroke="#111" stroke-width="0.2">TCCTCCGGATAGCTCAGGTTTTCACAAGGTATTT</text>
<text transform="translate(201.80,282.13) scale(0.8560,1)" x="0" y="0" font-size="5.9" fill="#c42c48" stroke="#c42c48" stroke-width="0.2">SSG*LR_FHKVF</text>
<text transform="translate(257.60,282.13) scale(0.8409,1)" x="0" y="0" font-size="5.9" fill="#111" stroke="#111" stroke-width="0.2">TGTTCCTACGGCTAATATAGCTCAGGTTTTCACAAGGTATTT</text>
<text transform="translate(420.40,282.13) scale(0.8889,1)" x="0" y="0" font-size="5.9" fill="#c42c48" stroke="#c42c48" stroke-width="0.2">CSYG*YSSGFHKVF</text>
<rect x="17.20" y="285.44" width="24.80" height="6.70" fill="#c9c9c9"/>
<rect x="43.80" y="285.44" width="155.40" height="6.70" fill="#c8c8c8"/>
<rect x="200.80" y="285.44" width="54.60" height="6.70" fill="#c8c8c8"/>
<rect x="256.90" y="285.44" width="161.10" height="6.70" fill="#c8c8c8"/>
<rect x="419.50" y="285.44" width="55.10" height="6.70" fill="#c8c8c8"/>
<text x="29.60" y="290.49" font-size="5.7" fill="#222" stroke="#222" stroke-width="0.08" text-anchor="middle" >8</text>
<text transform="translate(44.70,290.49) scale(0.8473,1)" x="0" y="0" font-size="5.9" fill="#111" stroke="#111" stroke-width="0.2">TGTTCCTACGGCTAAAATCTAGGCTCAGGTTTTCACAAGGTATTT</text>
<text transform="translate(201.80,290.49) scale(0.8677,1)" x="0" y="0" font-size="5.9" fill="#c42c48" stroke="#c42c48" stroke-width="0.2">CSYG*NL_SGFHKVF</text>
<text transform="translate(257.60,290.49) scale(0.8507,1)" x="0" y="0" font-size="5.9" fill="#111" stroke="#111" stroke-width="0.2">TGTTCCTACGGCCAATATAGCTCAGGTTTTCACAAGGTATTT</text>
<text transform="translate(420.40,290.49) scale(0.8917,1)" x="0" y="0" font-size="5.9" fill="#111" stroke="#111" stroke-width="0.2">CSYGQYSSGFHKVF</text>
<rect x="17.20" y="293.80" width="24.80" height="6.70" fill="#7c7c7c"/>
<rect x="43.80" y="293.80" width="155.40" height="6.70" fill="#828282"/>
<rect x="200.80" y="293.80" width="54.60" height="6.70" fill="#828282"/>
<rect x="256.90" y="293.80" width="161.10" height="6.70" fill="#828282"/>
<rect x="419.50" y="293.80" width="55.10" height="6.70" fill="#828282"/>
<text x="29.60" y="298.85" font-size="5.7" fill="#222" stroke="#222" stroke-width="0.08" text-anchor="middle" >9</text>
<text transform="translate(44.70,298.85) scale(0.8415,1)" x="0" y="0" font-size="5.9" fill="#111" stroke="#111" stroke-width="0.2">TGTTCCTACGGCTAATATAGCTCAGGTTTTCACAAGGTATTT</text>
<text transform="translate(201.80,298.85) scale(0.8835,1)" x="0" y="0" font-size="5.9" fill="#c42c48" stroke="#c42c48" stroke-width="0.2">CSYG*YSSGFHKVF</text>
<text transform="translate(257.60,298.85) scale(0.8409,1)" x="0" y="0" font-size="5.9" fill="#111" stroke="#111" stroke-width="0.2">TGTTCCTACGGCTATATAGCTCAGGTTTTCACAAGGTATTT</text>
<text transform="translate(420.40,298.85) scale(0.8602,1)" x="0" y="0" font-size="5.9" fill="#c42c48" stroke="#c42c48" stroke-width="0.2">CSYGYIA_GFHKVF</text>
<rect x="17.20" y="302.17" width="24.80" height="6.70" fill="#c9c9c9"/>
<rect x="43.80" y="302.17" width="155.40" height="6.70" fill="#c8c8c8"/>
<rect x="200.80" y="302.17" width="54.60" height="6.70" fill="#c8c8c8"/>
<rect x="256.90" y="302.17" width="161.10" height="6.70" fill="#c8c8c8"/>
<rect x="419.50" y="302.17" width="55.10" height="6.70" fill="#c8c8c8"/>
<text x="29.60" y="307.22" font-size="5.7" fill="#222" stroke="#222" stroke-width="0.08" text-anchor="middle" >10</text>
<text transform="translate(44.70,307.22) scale(0.8202,1)" x="0" y="0" font-size="5.9" fill="#111" stroke="#111" stroke-width="0.2">TGTTCCTACGGGGTATATAGCTCAGGGTTTTCACAAGGTATTT</text>
<text transform="translate(201.80,307.22) scale(0.8752,1)" x="0" y="0" font-size="5.9" fill="#c42c48" stroke="#c42c48" stroke-width="0.2">CSYGYIA_GFHKVF</text>
<text transform="translate(257.60,307.22) scale(0.8568,1)" x="0" y="0" font-size="5.9" fill="#111" stroke="#111" stroke-width="0.2">TGTTCCTACGGCCATAGCTCAGGTTTTCACAAGGTATTT</text>
<text transform="translate(420.40,307.22) scale(0.9127,1)" x="0" y="0" font-size="5.9" fill="#111" stroke="#111" stroke-width="0.2">CSYGHSSGFHKVF</text>
<rect x="17.20" y="310.53" width="24.80" height="6.70" fill="#7c7c7c"/>
<rect x="43.80" y="310.53" width="155.40" height="6.70" fill="#828282"/>
<rect x="200.80" y="310.53" width="54.60" height="6.70" fill="#828282"/>
<rect x="256.90" y="310.53" width="161.10" height="6.70" fill="#828282"/>
<rect x="419.50" y="310.53" width="55.10" height="6.70" fill="#828282"/>
<text x="29.60" y="315.58" font-size="5.7" fill="#222" stroke="#222" stroke-width="0.08" text-anchor="middle" >11</text>
<text transform="translate(44.70,315.58) scale(0.8597,1)" x="0" y="0" font-size="5.9" fill="#111" stroke="#111" stroke-width="0.2">TGTTCCTACGGCTAAAGCCTAGCTCAGGTTTTCACAAGGTATTT</text>
<text transform="translate(201.80,315.58) scale(0.8814,1)" x="0" y="0" font-size="5.9" fill="#c42c48" stroke="#c42c48" stroke-width="0.2">CSYG*SL_SGFHKVF</text>
<text transform="translate(257.60,315.58) scale(0.8486,1)" x="0" y="0" font-size="5.9" fill="#111" stroke="#111" stroke-width="0.2">TGTTCCTACGGATAGCTCAGGTTTTCACAAGGTATTT</text>
<text transform="translate(420.40,315.58) scale(0.8764,1)" x="0" y="0" font-size="5.9" fill="#111" stroke="#111" stroke-width="0.2">CSYGYSSGFHKVF</text>
<rect x="17.20" y="318.89" width="24.80" height="6.70" fill="#c9c9c9"/>
<rect x="43.80" y="318.89" width="155.40" height="6.70" fill="#c8c8c8"/>
<rect x="200.80" y="318.89" width="54.60" height="6.70" fill="#c8c8c8"/>
<rect x="256.90" y="318.89" width="161.10" height="6.70" fill="#c8c8c8"/>
<rect x="419.50" y="318.89" width="55.10" height="6.70" fill="#c8c8c8"/>
<text x="29.60" y="323.94" font-size="5.7" fill="#222" stroke="#222" stroke-width="0.08" text-anchor="middle" >12</text>
<text transform="translate(44.70,323.94) scale(0.8501,1)" x="0" y="0" font-size="5.9" fill="#111" stroke="#111" stroke-width="0.2">TGTTCCTACGGCCAATAGCTCAGGTTTTCACAAGGTATTT</text>
<text transform="translate(201.80,323.94) scale(0.8738,1)" x="0" y="0" font-size="5.9" fill="#c42c48" stroke="#c42c48" stroke-width="0.2">CSYGQ*L_GFHKVF</text>
<text transform="translate(257.60,323.94) scale(0.8284,1)" x="0" y="0" font-size="5.9" fill="#111" stroke="#111" stroke-width="0.2">TGTTCCTACGGGGATAGCTCAGGTTTTCACAAGGTATTT</text>
<text transform="translate(420.40,323.94) scale(0.9163,1)" x="0" y="0" font-size="5.9" fill="#c42c48" stroke="#c42c48" stroke-width="0.2">CSYG*L_GFHKVF</text>
<rect x="17.20" y="327.26" width="24.80" height="6.70" fill="#7c7c7c"/>
<rect x="43.80" y="327.26" width="155.40" height="6.70" fill="#828282"/>
<rect x="200.80" y="327.26" width="54.60" height="6.70" fill="#828282"/>
<rect x="256.90" y="327.26" width="161.10" height="6.70" fill="#828282"/>
<rect x="419.50" y="327.26" width="55.10" height="6.70" fill="#828282"/>
<text x="29.60" y="332.31" font-size="5.7" fill="#222" stroke="#222" stroke-width="0.08" text-anchor="middle" >13</text>
<text transform="translate(44.70,332.31) scale(0.8253,1)" x="0" y="0" font-size="5.9" fill="#111" stroke="#111" stroke-width="0.2">TGTTCCTACGGGGGATATAGCTCAGGTTTTCACAAGGTATTT</text>
<text transform="translate(201.80,332.31) scale(0.8792,1)" x="0" y="0" font-size="5.9" fill="#c42c48" stroke="#c42c48" stroke-width="0.2">CSYGDIA_GFHKVF</text>
<text transform="translate(257.60,332.31) scale(0.8374,1)" x="0" y="0" font-size="5.9" fill="#111" stroke="#111" stroke-width="0.2">TGTTCCTACGGCTCTATATAGCTCAGGTTTTCACAAGGTATTT</text>
<text transform="translate(420.40,332.31) scale(0.8732,1)" x="0" y="0" font-size="5.9" fill="#c42c48" stroke="#c42c48" stroke-width="0.2">CSYGSI*_SGFHKVF</text>
<rect x="17.20" y="335.62" width="24.80" height="6.70" fill="#c9c9c9"/>
<rect x="43.80" y="335.62" width="155.40" height="6.70" fill="#c8c8c8"/>
<rect x="200.80" y="335.62" width="54.60" height="6.70" fill="#c8c8c8"/>
<rect x="256.90" y="335.62" width="161.10" height="6.70" fill="#c8c8c8"/>
<rect x="419.50" y="335.62" width="55.10" height="6.70" fill="#c8c8c8"/>
<text x="29.60" y="340.67" font-size="5.7" fill="#222" stroke="#222" stroke-width="0.08" text-anchor="middle" >14</text>
<text transform="translate(44.70,340.67) scale(0.8422,1)" x="0" y="0" font-size="5.9" fill="#111" stroke="#111" stroke-width="0.2">TGTTCCTACGGAATATAGCTCAGGTTTTCACAAGGTATTT</text>
<text transform="translate(201.80,340.67) scale(0.9001,1)" x="0" y="0" font-size="5.9" fill="#c42c48" stroke="#c42c48" stroke-width="0.2">CSYG*L_GFHKVF</text>
<text transform="translate(257.60,340.67) scale(0.8377,1)" x="0" y="0" font-size="5.9" fill="#111" stroke="#111" stroke-width="0.2">TGTTCCTACGGCTTTATATAGCTCAGGTTTTCACAAGGTATTT</text>
<text transform="translate(420.40,340.67) scale(0.8484,1)" x="0" y="0" font-size="5.9" fill="#c42c48" stroke="#c42c48" stroke-width="0.2">CSYGFF*_SGFHKVF</text>
<rect x="17.20" y="343.98" width="24.80" height="6.70" fill="#7c7c7c"/>
<rect x="43.80" y="343.98" width="155.40" height="6.70" fill="#828282"/>
<rect x="200.80" y="343.98" width="54.60" height="6.70" fill="#828282"/>
<rect x="256.90" y="343.98" width="161.10" height="6.70" fill="#828282"/>
<rect x="419.50" y="343.98" width="55.10" height="6.70" fill="#828282"/>
<text x="29.60" y="349.03" font-size="5.7" fill="#222" stroke="#222" stroke-width="0.08" text-anchor="middle" >15</text>
<text transform="translate(44.70,349.03) scale(0.8358,1)" x="0" y="0" font-size="5.9" fill="#111" stroke="#111" stroke-width="0.2">TGTTCCTACGGATATAGCTCAGGTTTTCACAAGGTATTT</text>
<text transform="translate(201.80,349.03) scale(0.8802,1)" x="0" y="0" font-size="5.9" fill="#111" stroke="#111" stroke-width="0.2">CSYGYSSGFHKVF</text>
<text transform="translate(257.60,349.03) scale(0.8426,1)" x="0" y="0" font-size="5.9" fill="#111" stroke="#111" stroke-width="0.2">TGTTCCTACGGCTTTATAGCTCAGGTTTTCACAAGGTATTT</text>
<text transform="translate(420.40,349.03) scale(0.8750,1)" x="0" y="0" font-size="5.9" fill="#c42c48" stroke="#c42c48" stroke-width="0.2">CSYGFIA_GFHKVF</text>
<rect x="17.20" y="352.35" width="24.80" height="6.70" fill="#c9c9c9"/>
<rect x="43.80" y="352.35" width="155.40" height="6.70" fill="#c8c8c8"/>
<rect x="200.80" y="352.35" width="54.60" height="6.70" fill="#c8c8c8"/>
<rect x="256.90" y="352.35" width="161.10" height="6.70" fill="#c8c8c8"/>
<rect x="419.50" y="352.35" width="55.10" height="6.70" fill="#c8c8c8"/>
<text x="29.60" y="357.40" font-size="5.7" fill="#222" stroke="#222" stroke-width="0.08" text-anchor="middle" >16</text>
<text transform="translate(44.70,357.40) scale(0.8365,1)" x="0" y="0" font-size="5.9" fill="#111" stroke="#111" stroke-width="0.2">TGTTCCTACTGGGGTATATAGCTCAGGTTTTCACAAGGTATTT</text>
<text transform="translate(201.80,357.40) scale(0.8816,1)" x="0" y="0" font-size="5.9" fill="#c42c48" stroke="#c42c48" stroke-width="0.2">CSYWGI*_SGFHKVF</text>
<text transform="translate(257.60,357.40) scale(0.8253,1)" x="0" y="0" font-size="5.9" fill="#111" stroke="#111" stroke-width="0.2">TGTTCCTACGGGGATAGCTCAGGTTTTCACAAGGTATTT</text>
<text transform="translate(420.40,357.40) scale(0.8718,1)" x="0" y="0" font-size="5.9" fill="#c42c48" stroke="#c42c48" stroke-width="0.2">CSYGIA_GFHKVF</text>
<rect x="17.20" y="360.71" width="24.80" height="6.70" fill="#7c7c7c"/>
<rect x="43.80" y="360.71" width="155.40" height="6.70" fill="#828282"/>
<rect x="200.80" y="360.71" width="54.60" height="6.70" fill="#828282"/>
<rect x="256.90" y="360.71" width="161.10" height="6.70" fill="#828282"/>
<rect x="419.50" y="360.71" width="55.10" height="6.70" fill="#828282"/>
<text x="29.60" y="365.76" font-size="5.7" fill="#222" stroke="#222" stroke-width="0.08" text-anchor="middle" >17</text>
<text transform="translate(44.70,365.76) scale(0.8374,1)" x="0" y="0" font-size="5.9" fill="#111" stroke="#111" stroke-width="0.2">TGTTCCTACGGCTAAATATAGCTCAGGTTTTCACAAGGTATTT</text>
<text transform="translate(201.80,365.76) scale(0.8792,1)" x="0" y="0" font-size="5.9" fill="#c42c48" stroke="#c42c48" stroke-width="0.2">CSYG*F_SGFHKVF</text>
<text transform="translate(257.60,365.76) scale(0.8508,1)" x="0" y="0" font-size="5.9" fill="#111" stroke="#111" stroke-width="0.2">TGTTCCTACGGCTCCTATAGCTCAGGTTTTCACAAGGTATTT</text>
<text transform="translate(420.40,365.76) scale(0.8826,1)" x="0" y="0" font-size="5.9" fill="#111" stroke="#111" stroke-width="0.2">CSYGSYSSGFHKVF</text>
<rect x="17.20" y="369.07" width="24.80" height="6.70" fill="#c9c9c9"/>
<rect x="43.80" y="369.07" width="155.40" height="6.70" fill="#c8c8c8"/>
<rect x="200.80" y="369.07" width="54.60" height="6.70" fill="#c8c8c8"/>
<rect x="256.90" y="369.07" width="161.10" height="6.70" fill="#c8c8c8"/>
<rect x="419.50" y="369.07" width="55.10" height="6.70" fill="#c8c8c8"/>
<text x="29.60" y="374.12" font-size="5.7" fill="#222" stroke="#222" stroke-width="0.08" text-anchor="middle" >18</text>
<text transform="translate(44.70,374.12) scale(0.8444,1)" x="0" y="0" font-size="5.9" fill="#111" stroke="#111" stroke-width="0.2">TGTTCCTACGGCTCGTATAGCTCAGGTTTTCACAAGGTATTT</text>
<text transform="translate(201.80,374.12) scale(0.8876,1)" x="0" y="0" font-size="5.9" fill="#c42c48" stroke="#c42c48" stroke-width="0.2">CSYGSI*_SGFHKVF</text>
<text transform="translate(257.60,374.12) scale(0.8390,1)" x="0" y="0" font-size="5.9" fill="#111" stroke="#111" stroke-width="0.2">TGTTCCTACGGCTATTATAGCTCAGGTTTTCACAAGGTATTT</text>
<text transform="translate(420.40,374.12) scale(0.8826,1)" x="0" y="0" font-size="5.9" fill="#111" stroke="#111" stroke-width="0.2">CSYGYYSSGFHKVF</text>
<rect x="17.20" y="377.43" width="24.80" height="6.70" fill="#7c7c7c"/>
<rect x="43.80" y="377.43" width="155.40" height="6.70" fill="#828282"/>
<rect x="200.80" y="377.43" width="54.60" height="6.70" fill="#828282"/>
<rect x="256.90" y="377.43" width="161.10" height="6.70" fill="#828282"/>
<rect x="419.50" y="377.43" width="55.10" height="6.70" fill="#828282"/>
<text x="29.60" y="382.48" font-size="5.7" fill="#222" stroke="#222" stroke-width="0.08" text-anchor="middle" >19</text>
<text transform="translate(44.70,382.48) scale(0.8616,1)" x="0" y="0" font-size="5.9" fill="#111" stroke="#111" stroke-width="0.2">TGTTCCTACGGCTAAAAGGGAGCTCAGGTTTTCACAAGGTATTT</text>
<text transform="translate(201.80,382.48) scale(0.8619,1)" x="0" y="0" font-size="5.9" fill="#c42c48" stroke="#c42c48" stroke-width="0.2">CSYG*KG_SGFHKVF</text>
<text transform="translate(257.60,382.48) scale(0.8374,1)" x="0" y="0" font-size="5.9" fill="#111" stroke="#111" stroke-width="0.2">TGTTCCTACGGCTAAATATAGCTCAGGTTTTCACAAGGTATTT</text>
<text transform="translate(420.40,382.48) scale(0.8905,1)" x="0" y="0" font-size="5.9" fill="#c42c48" stroke="#c42c48" stroke-width="0.2">CSYGY*_SGFHKVF</text>
<rect x="17.20" y="385.80" width="24.80" height="6.70" fill="#c9c9c9"/>
<rect x="43.80" y="385.80" width="155.40" height="6.70" fill="#c8c8c8"/>
<rect x="200.80" y="385.80" width="54.60" height="6.70" fill="#c8c8c8"/>
<rect x="256.90" y="385.80" width="161.10" height="6.70" fill="#c8c8c8"/>
<rect x="419.50" y="385.80" width="55.10" height="6.70" fill="#c8c8c8"/>
<text x="29.60" y="390.85" font-size="5.7" fill="#222" stroke="#222" stroke-width="0.08" text-anchor="middle" >20</text>
<text transform="translate(44.70,390.85) scale(0.8237,1)" x="0" y="0" font-size="5.9" fill="#111" stroke="#111" stroke-width="0.2">TGTTCCTACGGGGTAAGTGCTCAGGTTTTCACAAGGTATTT</text>
<text transform="translate(201.80,390.85) scale(0.8752,1)" x="0" y="0" font-size="5.9" fill="#c42c48" stroke="#c42c48" stroke-width="0.2">CSYG*VL_GFHKVF</text>
<text transform="translate(257.60,390.85) scale(0.8500,1)" x="0" y="0" font-size="5.9" fill="#111" stroke="#111" stroke-width="0.2">TGTTCCTACGGGATAGCTCAGGTTTTCACAAGGTATTT</text>
<text transform="translate(420.40,390.85) scale(0.9127,1)" x="0" y="0" font-size="5.9" fill="#111" stroke="#111" stroke-width="0.2">CSYGDSSGFHKVF</text>
<text transform="translate(19.90,224.00) scale(1.0225,1)" x="0" y="0" font-size="6.2" fill="#e8eaf0" stroke="#e8eaf0" stroke-width="0.1">Top 20</text>
<text transform="translate(44.30,224.10) scale(0.9924,1)" x="0" y="0" font-size="6.2" fill="#e8eaf0" stroke="#e8eaf0" stroke-width="0.1">ILC2 CDR3</text>
<text transform="translate(75.90,224.10) scale(1.3008,1)" x="0" y="0" font-size="4.6" fill="#e8eaf0" stroke="#e8eaf0" stroke-width="0.05">nt</text>
<text transform="translate(202.00,224.10) scale(0.9924,1)" x="0" y="0" font-size="6.2" fill="#e8eaf0" stroke="#e8eaf0" stroke-width="0.1">ILC2 CDR3</text>
<text transform="translate(233.60,224.10) scale(1.2098,1)" x="0" y="0" font-size="4.6" fill="#e8eaf0" stroke="#e8eaf0" stroke-width="0.05">aa</text>
<text transform="translate(258.00,224.10) scale(0.9780,1)" x="0" y="0" font-size="6.2" fill="#e8eaf0" stroke="#e8eaf0" stroke-width="0.1"><tspan font-family="Liberation Serif">γ</tspan><tspan font-family="Liberation Serif">δ</tspan>T CDR3</text>
<text transform="translate(285.60,224.10) scale(1.3528,1)" x="0" y="0" font-size="4.6" fill="#e8eaf0" stroke="#e8eaf0" stroke-width="0.05">nt</text>
<text transform="translate(420.50,224.10) scale(0.9780,1)" x="0" y="0" font-size="6.2" fill="#e8eaf0" stroke="#e8eaf0" stroke-width="0.1"><tspan font-family="Liberation Serif">γ</tspan><tspan font-family="Liberation Serif">δ</tspan>T CDR3</text>
<text transform="translate(448.10,224.10) scale(1.3659,1)" x="0" y="0" font-size="4.6" fill="#e8eaf0" stroke="#e8eaf0" stroke-width="0.05">aa</text>
<rect x="0" y="0" width="520" height="1" fill="#000"/>
<rect x="0" y="0" width="1" height="399" fill="#000"/>
<rect x="518.7" y="0" width="1.3" height="399" fill="#000"/>
<rect x="0" y="397.8" width="520" height="1.2" fill="#000"/>
</svg>
</body></html>
